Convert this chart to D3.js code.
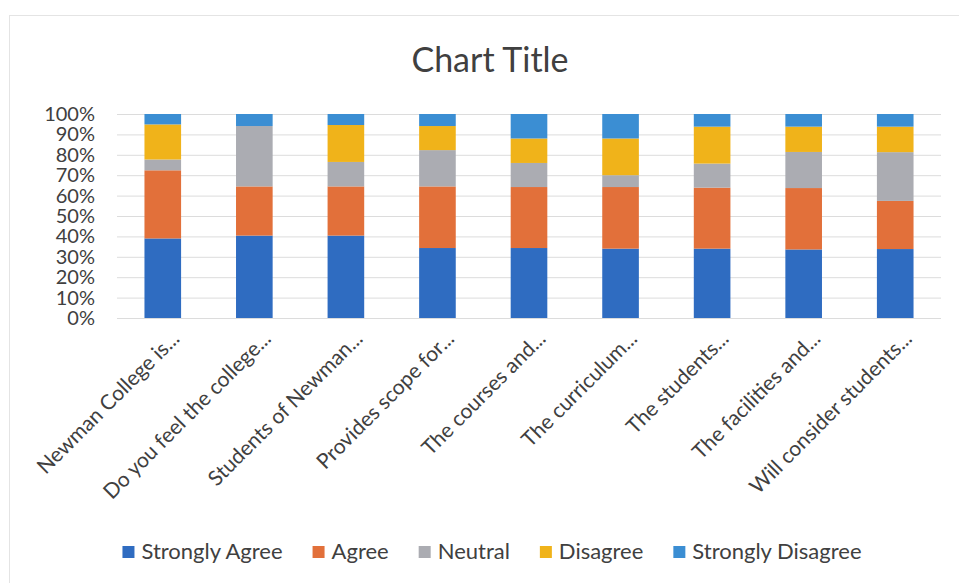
<!DOCTYPE html>
<html>
<head>
<meta charset="utf-8">
<script src="https://cdn.jsdelivr.net/npm/d3@7"></script>
<style>
  body { margin: 0; background: #fff; }
  svg { font-family: Lato, "Liberation Sans", sans-serif; }
</style>
</head>
<body>
<svg id="chart"></svg>
<script>
// survey questions (truncated as in the original axis)
const questions = [
  'Newman College is...', 'Do you feel the college...', 'Students of Newman...',
  'Provides scope for...', 'The courses and...', 'The curriculum...',
  'The students...', 'The facilities and...', 'Will consider students...'
];
const responses = ['Strongly Agree', 'Agree', 'Neutral', 'Disagree', 'Strongly Disagree'];

// share of answers per question (%)
const stronglyAgree    = [39.0, 40.4, 40.4, 34.3, 34.3, 34.0, 34.0, 33.6, 33.8];
const agree            = [33.4, 24.1, 24.1, 30.2, 29.9, 30.2, 29.9, 30.1, 23.6];
const neutral          = [5.3, 29.6, 12.0, 17.8, 11.8, 5.8, 11.8, 17.7, 23.9];
const disagree         = [17.2, 0, 18.1, 11.8, 12.0, 18.0, 18.1, 12.4, 12.5];
const stronglyDisagree = [5.1, 5.9, 5.4, 5.9, 12.0, 12.0, 6.2, 6.2, 6.2];

const yTicks = [0, 10, 20, 30, 40, 50, 60, 70, 80, 90, 100];
const colors = ['#2f6cc1', '#e2703a', '#abacb2', '#f0b31a', '#3b8ed3'];

const width = 959, height = 583;
const plot = {left: 117, right: 941, top: 114, bottom: 318};

const svg = d3.select('#chart').attr('width', width).attr('height', height);

// chart frame
svg.append('rect')
    .attr('x', 9.5).attr('y', 15.5)
    .attr('width', 960).attr('height', 580)
    .attr('fill', 'none').attr('stroke', '#e4e4e4');

const table = questions.map((q, i) => ({
  q: q,
  'Strongly Agree': stronglyAgree[i],
  'Agree': agree[i],
  'Neutral': neutral[i],
  'Disagree': disagree[i],
  'Strongly Disagree': stronglyDisagree[i]
}));

const stacked = d3.stack().keys(responses).offset(d3.stackOffsetExpand)(table);

const x = d3.scaleBand().domain(questions).range([plot.left, plot.right]).paddingInner(0.6).paddingOuter(0.3);
const y = d3.scaleLinear().domain([0, 1]).range([plot.bottom, plot.top]);
const color = d3.scaleOrdinal().domain(responses).range(colors);

// gridlines + y labels
const yAxis = d3.axisLeft(y)
    .tickValues(yTicks.map(d => d / 100))
    .tickFormat(d => Math.round(d * 100) + '%')
    .tickSize(-(plot.right - plot.left))
    .tickPadding(22);

svg.append('g')
    .attr('transform', `translate(${plot.left},0)`)
    .call(yAxis)
    .call(g => g.select('.domain').remove())
    .call(g => g.selectAll('.tick line').attr('stroke', '#dcdcdc'))
    .call(g => g.selectAll('.tick text')
        .attr('fill', '#404040')
        .style('font-size', '20px')
        .style('font-family', 'Lato, sans-serif'));

// bars
svg.append('g').selectAll('g')
  .data(stacked)
  .join('g')
    .attr('fill', d => color(d.key))
  .selectAll('rect')
  .data(d => d)
  .join('rect')
    .attr('x', d => x(d.data.q))
    .attr('y', d => y(d[1]))
    .attr('width', x.bandwidth())
    .attr('height', d => y(d[0]) - y(d[1]));

// category labels, rotated
const xAxis = d3.axisBottom(x).tickSize(0);
svg.append('g')
    .attr('transform', `translate(0,${plot.bottom})`)
    .call(xAxis)
    .call(g => g.select('.domain').remove())
    .call(g => g.selectAll('.tick text')
        .attr('fill', '#404040')
        .style('font-size', '21px')
        .style('font-family', 'Lato, sans-serif')
        .attr('text-anchor', 'end')
        .attr('dy', null)
        .attr('y', 0)
        .attr('transform', 'translate(18,22) rotate(-45)'));

// title
svg.append('text')
    .attr('x', 490).attr('y', 72)
    .attr('text-anchor', 'middle')
    .attr('fill', '#404040')
    .style('font-size', '34px')
    .text('Chart Title');

// legend
const legend = svg.append('g').style('font-size', '22px');
let cx = 0;
responses.forEach(r => {
  const item = legend.append('g').attr('transform', `translate(${cx},0)`);
  item.append('rect')
      .attr('x', 0).attr('y', -13)
      .attr('width', 12).attr('height', 12)
      .attr('fill', color(r));
  const t = item.append('text')
      .attr('x', 19).attr('y', 0)
      .attr('fill', '#404040')
      .text(r);
  cx += 19 + t.node().getComputedTextLength() + 30;
});
const legendW = cx - 30;
legend.attr('transform', `translate(${492 - legendW / 2},559)`);
</script>
</body>
</html>
